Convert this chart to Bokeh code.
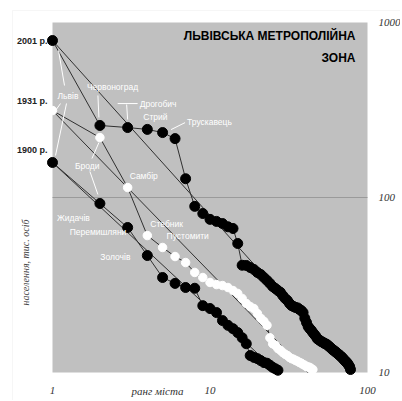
import math
from bokeh.plotting import figure
from bokeh.models import Range1d, Label, BoxAnnotation
from bokeh.embed import file_html
from bokeh.resources import INLINE

# ---------------- data ----------------
pop_2001 = [789, 258, 251, 245, 235, 217, 128, 89, 81, 75,
            73, 71, 68, 66.5, 54.6, 41, 40.9, 39.8, 38.8, 37.3,
            36.3, 34.9, 33.6, 32.3, 31.0, 30.2, 29.4, 28.7, 27.5, 26.5,
            25.8, 24.8, 24.1, 23.8, 23.5, 23.4, 22.9, 22.6, 22.0, 20.4,
            19.3, 18.3, 17.8, 17.4, 16.9, 16.5, 16.1, 15.6, 15.4, 15.2,
            15.0, 14.9, 14.7, 14.6, 14.5, 14.3, 14.1, 13.9, 13.7, 13.5,
            13.4, 13.2, 13.1, 12.9, 12.8, 12.6, 12.5, 12.3, 12.2, 12.0,
            11.8, 11.7, 11.5, 11.4, 11.2, 11.0, 10.8, 10.4]
pop_1931 = [314, 220, 114, 60.6, 51.8, 46.0, 42.5, 37.3, 34.9, 32.7,
            31.8, 31.4, 30.6, 29.4, 28.3, 26.5, 24.8, 23.8, 23.2, 21.7,
            20.4, 19.6, 18.6, 15.8, 14.6, 14.3, 13.7, 13.4, 13.0, 12.7,
            12.5, 12.2, 12.0, 11.9, 11.7, 11.6, 11.4, 11.3, 11.1, 11.0,
            10.8, 10.75, 10.7, 10.5, 10.4]
pop_1900 = [158.5, 92.4, 67.4, 46.6, 34.9, 32.3, 30.6, 30.3, 24.1, 23.2,
            22.0, 19.8, 18.6, 17.8, 16.9, 15.8, 14.6, 12.5, 12.2, 12.0,
            11.7, 11.4, 11.3, 11.0, 10.7, 10.5, 10.3]
rank_2001 = list(range(1, len(pop_2001) + 1))
rank_1931 = list(range(1, len(pop_1931) + 1))
rank_1900 = list(range(1, len(pop_1900) + 1))

# rank-size trend lines
trend_rank_2001 = [1, 78.9]
trend_pop_2001 = [789, 10]
trend_rank_1931 = [1, 41.6]
trend_pop_1931 = [314, 10]
trend_rank_1900 = [1, 27]
trend_pop_1900 = [158.5, 10]

x_tick_values = [1, 10, 100]
x_tick_labels = ["1", "10", "100"]
y_tick_values = [10, 100, 1000]
y_tick_labels = ["10", "100", "1000"]
grid_values = [100]
year_tick_values = [789, 358, 186]
year_tick_labels = ["2001 р.", "1931 р.", "1900 р."]

title_lines = ["ЛЬВІВСЬКА МЕТРОПОЛІЙНА", "ЗОНА"]
x_title = "ранг міста"
y_title = "населення, тис. осіб"

# city labels: (text, series, rank, dx px, dy px)  dy positive = down
city_labels = [
    ("Львів", "2001", 1, 5, 55),
    ("Червоноград", "2001", 2, -13, -38),
    ("Дрогобич", "2001", 3, 12, -24),
    ("Стрий", "2001", 4, -4, -12),
    ("Трускавець", "2001", 6, 12, -17),
    ("Броди", "1931", 2, -25, 28),
    ("Самбір", "1931", 3, 2, -12),
    ("Стебник", "1931", 4, 3, -12),
    ("Пустомити", "1931", 5, 4, -11),
    ("Жидачів", "1900", 2, -43, 14),
    ("Перемишляни", "1900", 3, -58, 5),
    ("Золочів", "1900", 4, -47, 1),
]
# leader lines: (series, rank, dx1, dy1, dx2, dy2)
leaders = [
    ("2001", 1, 6, 10, 12, 45),
    ("1931", 1, 8, -7, 3, 0),
    ("1900", 1, 14, -59, 3, -7),
    ("2001", 2, -2, -30, -1, -8),
    ("2001", 3, -10, -24, 10, -24),
    ("2001", 3, -1, -23, 0, -8),
    ("2001", 6, 10, -16, -4, -9),
    ("1931", 2, -8, 21, -1, 5),
    ("1900", 2, -10, -32, -2, -9),
]

series = {"2001": pop_2001, "1931": pop_1931, "1900": pop_1900}

# ---------------- layout ----------------
W, H = 400, 400
X0PX, Y0PX = 52, 372          # pixel of rank 1 / population 10
XPX, YPX = 157.5, 175.0       # pixels per decade


def px(xp, yp):
    """canvas pixel -> data coordinates (for annotation placement)"""
    return 10 ** ((xp - X0PX) / XPX), 10 ** (1 + (Y0PX - yp) / YPX)


def shift(series_key, rank, dx, dy):
    v = series[series_key][rank - 1]
    return rank * 10 ** (dx / XPX), v * 10 ** (-dy / YPX)


xr0, yr1 = px(0, 0)
xr1, yr0 = px(W, H)

p = figure(width=W, height=H, x_axis_type="log", y_axis_type="log",
           x_range=Range1d(xr0, xr1), y_range=Range1d(yr0, yr1),
           x_axis_location=None, y_axis_location=None,
           output_backend="svg", toolbar_location=None, min_border=0)
p.background_fill_color = "white"
p.border_fill_color = "white"
p.outline_line_color = None
p.grid.visible = False

# faint outer frame
fx0, fy0 = px(12, 10)
p.add_layout(BoxAnnotation(left=fx0, right=xr1 * 2, top=fy0, bottom=yr0 / 2,
                           fill_alpha=0, line_color="#e2e2e2", line_width=1,
                           level="underlay"))
# plot area
p.add_layout(BoxAnnotation(left=x_tick_values[0], right=x_tick_values[-1],
                           bottom=y_tick_values[0], top=y_tick_values[-1],
                           fill_color="#c0c0c0", fill_alpha=1,
                           line_color=None, level="underlay"))
# horizontal grid line at 100
for g in grid_values:
    p.line([x_tick_values[0], x_tick_values[-1]], [g, g],
           line_color="#9a9a9a", line_width=1)

LINE = "#303030"
# trend lines
p.line(trend_rank_2001, trend_pop_2001, line_color=LINE, line_width=1)
p.line(trend_rank_1931, trend_pop_1931, line_color=LINE, line_width=1)
p.line(trend_rank_1900, trend_pop_1900, line_color=LINE, line_width=1)
# connecting lines
p.line(rank_2001, pop_2001, line_color=LINE, line_width=1)
p.line(rank_1931, pop_1931, line_color=LINE, line_width=1)
p.line(rank_1900, pop_1900, line_color=LINE, line_width=1)

# leader lines
x0s, y0s, x1s, y1s = [], [], [], []
for s, r, dx1, dy1, dx2, dy2 in leaders:
    a = shift(s, r, dx1, dy1)
    b = shift(s, r, dx2, dy2)
    x0s.append(a[0]); y0s.append(a[1]); x1s.append(b[0]); y1s.append(b[1])
p.segment(x0s, y0s, x1s, y1s, line_color="white", line_width=1)

# points
p.scatter(rank_1931, pop_1931, size=8.5, fill_color="white", line_color="white")
p.scatter(rank_1900, pop_1900, size=10, fill_color="black", line_color="black")
p.scatter(rank_2001, pop_2001, size=10, fill_color="black", line_color="black")

# city labels
for txt, s, r, dx, dy in city_labels:
    x, y = shift(s, r, dx, dy)
    p.add_layout(Label(x=x, y=y, text=txt, text_color="white",
                       text_font="Liberation Sans", text_font_size="8.5px",
                       text_align="left", text_baseline="middle"))

# title
for line, yp in zip(title_lines, [35, 57]):
    x, y = px(355, yp)
    p.add_layout(Label(x=x, y=y, text=line,
                       text_font="Liberation Sans", text_font_style="bold",
                       text_font_size="12px", text_color="black",
                       text_align="right", text_baseline="middle"))

# bottom tick labels
_, yb = px(0, 390)
for v, t in zip(x_tick_values, x_tick_labels):
    p.add_layout(Label(x=v, y=yb, text=t, text_font="Liberation Serif",
                       text_font_style="italic", text_font_size="11px",
                       text_color="#333333", text_align="center",
                       text_baseline="middle"))
# right tick labels
xr, _ = px(378, 0)
for v, t in zip(y_tick_values, y_tick_labels):
    p.add_layout(Label(x=xr, y=v, text=t, text_font="Liberation Serif",
                       text_font_style="italic", text_font_size="11px",
                       text_color="#333333", text_align="left",
                       text_baseline="middle"))
# year labels on the left
xl, _ = px(47, 0)
for v, t in zip(year_tick_values, year_tick_labels):
    p.add_layout(Label(x=xl, y=v, text=t, text_font="Liberation Sans",
                       text_font_size="9px", text_font_style="bold",
                       text_color="#222222", text_align="right",
                       text_baseline="middle"))

# axis titles
x, y = px(25, 262)
p.add_layout(Label(x=x, y=y, text=y_title, angle=math.pi / 2,
                   text_font="Liberation Serif", text_font_style="italic",
                   text_font_size="10px", text_color="#444444",
                   text_align="center", text_baseline="middle"))
x, y = px(157, 390)
p.add_layout(Label(x=x, y=y, text=x_title,
                   text_font="Liberation Serif", text_font_style="italic",
                   text_font_size="11px", text_color="#333333",
                   text_align="center", text_baseline="middle"))

open("out.html", "w").write(file_html(p, INLINE))
